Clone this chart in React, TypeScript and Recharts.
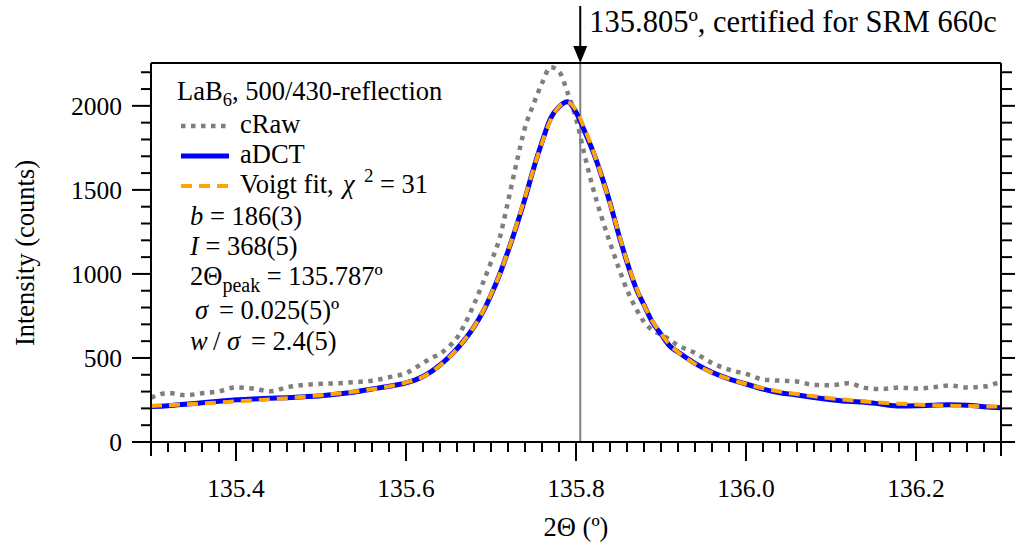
import React from 'react';
import { ComposedChart, Line, XAxis, YAxis, ReferenceLine, Customized } from 'recharts';

// 2-theta positions (deg)
const theta = [
  135.30, 135.32, 135.34, 135.36, 135.38, 135.40, 135.42, 135.44, 135.46, 135.48,
  135.50, 135.52, 135.54, 135.56, 135.58, 135.60, 135.62, 135.63, 135.64, 135.65,
  135.66, 135.67, 135.68, 135.69, 135.70, 135.71, 135.72, 135.73, 135.74, 135.75,
  135.76, 135.77, 135.78, 135.79, 135.80, 135.81, 135.82, 135.83, 135.84, 135.85,
  135.86, 135.87, 135.88, 135.89, 135.90, 135.91, 135.92, 135.94, 135.96, 135.98,
  136.00, 136.02, 136.04, 136.06, 136.08, 136.10, 136.12, 136.14, 136.16, 136.18,
  136.20, 136.22, 136.24, 136.26, 136.28, 136.30,
];

const cRaw = [
  263, 292, 278, 290, 302, 325, 318, 302, 325, 340,
  346, 350, 356, 365, 385, 410, 470, 500, 525, 565,
  620, 710, 820, 940, 1070, 1210, 1430, 1660, 1870, 2010,
  2135, 2230, 2205, 2080, 1925, 1710, 1510, 1340, 1185, 1040,
  905, 800, 715, 665, 640, 610, 575, 530, 470, 430,
  405, 372, 365, 360, 340, 338, 350, 322, 315, 324,
  318, 325, 336, 325, 330, 360,
];

const aDCT = [
  211, 216, 224, 233, 242, 251, 256, 260, 264, 269,
  275, 285, 298, 315, 332, 352, 390, 420, 458, 503,
  555, 615, 685, 770, 875, 995, 1135, 1285, 1448, 1626,
  1785, 1925, 1995, 2025, 1962, 1850, 1729, 1585, 1423, 1238,
  1071, 923, 815, 712, 642, 573, 535, 468, 415, 375,
  345, 315, 293, 280, 265, 252, 242, 237, 225, 214,
  215, 219, 221, 219, 210, 203,
];

const voigt = [
  214, 219, 224, 229, 235, 241, 247, 254, 261, 269,
  278, 288, 300, 314, 331, 354, 388, 418, 455, 500,
  553, 615, 685, 772, 878, 995, 1135, 1290, 1455, 1625,
  1780, 1915, 1995, 2022, 1975, 1865, 1735, 1585, 1420, 1245,
  1075, 930, 815, 718, 645, 580, 535, 465, 413, 375,
  345, 320, 300, 285, 272, 260, 250, 241, 234, 228,
  223, 219, 216, 214, 212, 211,
];

const xMajorTicks = [135.4, 135.6, 135.8, 136.0, 136.2];
const yMajorTicks = [0, 500, 1000, 1500, 2000];
const xMinorTicks = Array.from({ length: 51 }, (_, i) => +(135.3 + i * 0.02).toFixed(2));
const yMinorTicks = Array.from({ length: 23 }, (_, i) => i * 100);
const certified = 135.805;

const data = theta.map((t, i) => ({ theta: t, cRaw: cRaw[i], aDCT: aDCT[i], voigt: voigt[i] }));

const series = [
  { key: 'cRaw', stroke: '#7f7f7f', width: 4.5, dash: '4.5 5.5' },
  { key: 'aDCT', stroke: '#0000ff', width: 5, dash: undefined },
  { key: 'voigt', stroke: '#ffa500', width: 4, dash: '11 7' },
];

const FONT = "'Liberation Serif', 'Times New Roman', serif";
const isMajorX = (v: number) => xMajorTicks.some(m => Math.abs(m - v) < 1e-6);
const isEdgeX = (v: number) => Math.abs(v - 135.3) < 1e-6 || Math.abs(v - 136.3) < 1e-6;

const BottomTick = ({ x, y, payload }: any) => {
  const v = payload.value;
  const len = isMajorX(v) ? 19 : isEdgeX(v) ? 14 : 10;
  return (
    <g>
      <line x1={x} y1={y} x2={x} y2={y + len} stroke="#000" strokeWidth={2} />
      {isMajorX(v) && (
        <text x={x} y={y + 55} textAnchor="middle" style={{ fontFamily: FONT }} fontSize={25.5} fill="#000">
          {v.toFixed(1)}
        </text>
      )}
    </g>
  );
};

const TopTick = ({ x, y, payload }: any) => {
  const v = payload.value;
  const len = isMajorX(v) ? 20 : isEdgeX(v) ? 14 : 9;
  return <line x1={x} y1={y} x2={x} y2={y - len} stroke="#000" strokeWidth={2} />;
};

const LeftTick = ({ x, y, payload }: any) => {
  const v = payload.value;
  const major = yMajorTicks.includes(v);
  const len = major ? 19 : 10;
  return (
    <g>
      <line x1={x - len} y1={y} x2={x} y2={y} stroke="#000" strokeWidth={2} />
      {major && (
        <text x={x - 29} y={y + 9} textAnchor="end" style={{ fontFamily: FONT }} fontSize={25.5} fill="#000">
          {v}
        </text>
      )}
    </g>
  );
};

const RightTick = ({ x, y, payload }: any) => {
  const len = yMajorTicks.includes(payload.value) ? 14 : 11;
  return <line x1={x} y1={y} x2={x + len} y2={y} stroke="#000" strokeWidth={2} />;
};

const ArrowLabel = ({ viewBox }: any) => {
  const { x, y } = viewBox;
  return (
    <g>
      <line x1={x} y1={6} x2={x} y2={y - 14} stroke="#000" strokeWidth={2} />
      <polygon points={`${x - 7},${y - 17} ${x + 7},${y - 17} ${x},${y}`} fill="#000" />
      <text x={x + 9} y={32} style={{ fontFamily: FONT }} fontSize={30.5} fill="#000">
        135.805º, certified for SRM 660c
      </text>
    </g>
  );
};

const Overlay = () => {
  const rows = [
    { s: series[0], y: 133, label: <tspan>cRaw</tspan> },
    { s: series[1], y: 163, label: <tspan>aDCT</tspan> },
    {
      s: series[2], y: 193,
      label: (
        <>
          <tspan>Voigt fit,</tspan>
          <tspan x={343} fontStyle="italic">χ</tspan>
          <tspan x={364} fontSize={19} dy={-11}>2</tspan>
          <tspan x={380} dy={11}>= 31</tspan>
        </>
      ),
    },
  ];
  return (
    <g style={{ fontFamily: FONT }} fontSize={26.5} fill="#000">
      <text x={177} y={100}>
        LaB<tspan fontSize={18.5} dy={6}>6</tspan><tspan dy={-6}>, 500/430-reflection</tspan>
      </text>
      {rows.map(r => (
        <g key={r.s.key}>
          <line x1={181} y1={r.y - 7} x2={229} y2={r.y - 7} stroke={r.s.stroke}
            strokeWidth={r.s.width} strokeDasharray={r.s.dash} />
          <text x={240} y={r.y}>{r.label}</text>
        </g>
      ))}
      <text x={190} y={225}>
        <tspan fontStyle="italic">b</tspan> = 186(3)
      </text>
      <text x={190} y={255}>
        <tspan fontStyle="italic">I</tspan> = 368(5)
      </text>
      <text x={190} y={285}>
        2Θ<tspan fontSize={20} dy={7}>peak</tspan>
        <tspan dy={-7}> = 135.787º</tspan>
      </text>
      <text x={195} y={319}>
        <tspan fontStyle="italic">σ</tspan>
        <tspan x={219}>= 0.025(5)º</tspan>
      </text>
      <text x={190} y={350}>
        <tspan fontStyle="italic">w</tspan>
        <tspan x={213}>/</tspan>
        <tspan x={227} fontStyle="italic">σ</tspan>
        <tspan x={251}>= 2.4(5)</tspan>
      </text>
      <text x={576} y={536} textAnchor="middle">2Θ (º)</text>
      <text x={34} y={253} textAnchor="middle" transform="rotate(-90 34 253)">Intensity (counts)</text>
    </g>
  );
};

export default function App() {
  return (
    <div style={{ position: 'absolute', left: 0, top: 0, background: '#fff' }}>
      <ComposedChart width={1015} height={546} data={data}
        margin={{ top: 33, right: 0, bottom: 74, left: 91 }}>
        <XAxis xAxisId="b" dataKey="theta" type="number" domain={[135.3, 136.3]} allowDataOverflow
          ticks={xMinorTicks} interval={0} tick={<BottomTick />} tickLine={false} tickSize={0} tickMargin={0}
          height={30} axisLine={{ stroke: '#000', strokeWidth: 2 }} />
        <XAxis xAxisId="t" orientation="top" type="number" domain={[135.3, 136.3]} allowDataOverflow
          ticks={xMinorTicks} interval={0} tick={<TopTick />} tickLine={false} tickSize={0} tickMargin={0}
          height={30} axisLine={{ stroke: '#000', strokeWidth: 2 }} />
        <YAxis yAxisId="l" type="number" domain={[0, 2255]} allowDataOverflow
          ticks={yMinorTicks} interval={0} tick={<LeftTick />} tickLine={false} tickSize={0} tickMargin={0}
          width={60} axisLine={{ stroke: '#000', strokeWidth: 2 }} />
        <YAxis yAxisId="r" orientation="right" type="number" domain={[0, 2255]} allowDataOverflow
          ticks={yMinorTicks} interval={0} tick={<RightTick />} tickLine={false} tickSize={0} tickMargin={0}
          width={14} axisLine={{ stroke: '#000', strokeWidth: 2 }} />
        <ReferenceLine xAxisId="b" yAxisId="l" x={certified} stroke="#808080" strokeWidth={2}
          label={<ArrowLabel />} />
        {series.map(s => (
          <Line key={s.key} xAxisId="b" yAxisId="l" dataKey={s.key} type="monotone" stroke={s.stroke}
            strokeWidth={s.width} strokeDasharray={s.dash} dot={false} isAnimationActive={false} />
        ))}
        <Customized component={<Overlay />} />
      </ComposedChart>
    </div>
  );
}
